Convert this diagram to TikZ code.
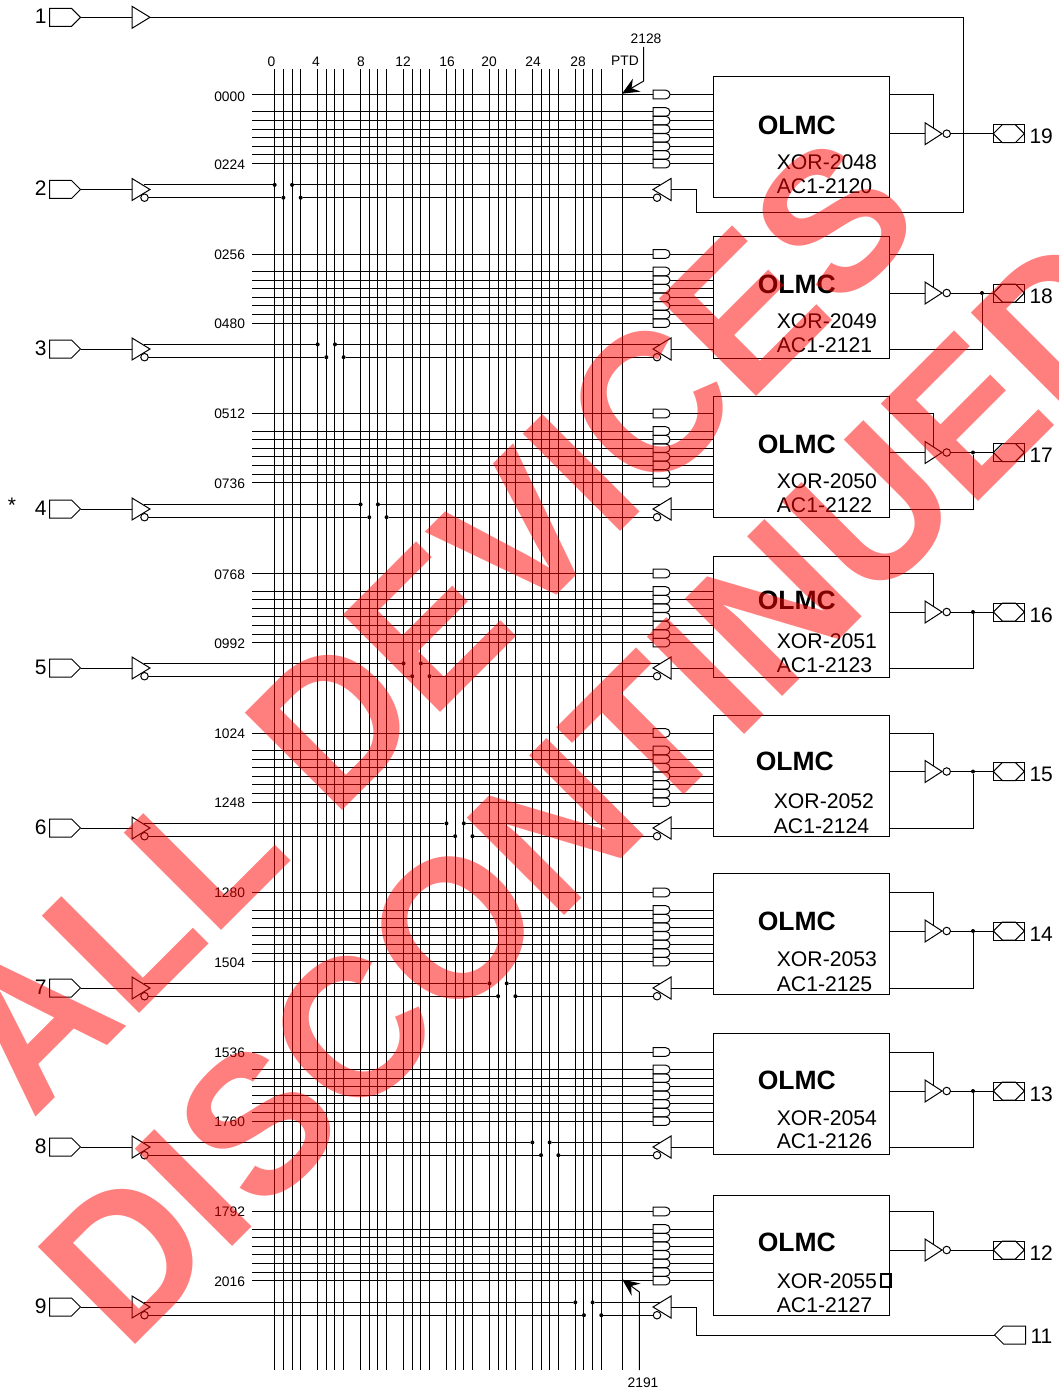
\documentclass[tikz,border=0pt]{standalone}
\usepackage{fontspec}
\setmainfont{Liberation Sans}
\usetikzlibrary{shapes.geometric,shapes.symbols,shapes.misc,arrows.meta}
\tikzset{
  small/.style={inner sep=0pt,yshift=-.8pt,font=\fontsize{13.8}{15}\selectfont},
  pinlab/.style={inner sep=0pt,font=\fontsize{21}{24}\selectfont},
  xorlab/.style={inner sep=0pt,anchor=west,font=\fontsize{21.2}{24}\selectfont},
  olmclab/.style={inner sep=0pt,anchor=west,font=\fontsize{26.5}{30}\selectfont\bfseries},
  olmc/.style={draw,anchor=north west,minimum width=176pt,inner sep=0pt,outer sep=0pt},
  andgate/.style={draw,rounded rectangle,rounded rectangle left arc=none,minimum width=17pt,minimum height=8.7pt,inner sep=0pt,outer sep=0pt},
  buffer/.style={draw,isosceles triangle,isosceles triangle stretches,minimum width=22pt,minimum height=18pt,inner sep=0pt,outer sep=0pt},
  bubble/.style={draw,circle,fill=white,minimum size=7.5pt,inner sep=0pt,outer sep=0pt},
  joint/.style={fill,circle,minimum size=4pt,inner sep=0pt,outer sep=0pt},
  inpin/.style={draw,signal,signal to=east,minimum width=31pt,minimum height=18pt,inner sep=0pt,outer sep=0pt},
  backpin/.style={draw,signal,signal to=west,minimum width=31pt,minimum height=18pt,inner sep=0pt,outer sep=0pt},
  outbox/.style={draw,rectangle,minimum width=31pt,minimum height=18pt,inner sep=0pt,outer sep=0pt},
  outhex/.style={draw,signal,signal to=east and west,minimum width=31pt,minimum height=18pt,inner sep=0pt,outer sep=0pt},
  stamp/.style={inner sep=0pt,rotate=45,text=red,text opacity=.5,font=\fontsize{200}{200}\selectfont\bfseries},
  ptdtip/.style={-{Stealth[length=17pt,width=15pt,inset=6pt]}}
}
\begin{document}
\begin{tikzpicture}[x=1pt,y=-1pt,line width=1pt]
\useasboundingbox (0,0) rectangle (1058,1388);
% fuse map columns
\foreach \g in {0,...,7} {
  \foreach \s in {0,...,3} {
    \pgfmathsetmacro\cx{274.7+\g*42.94+\s*8.67}
    \coordinate (top\g\s) at (\cx,69);
    \coordinate (bot\g\s) at (\cx,1370);
    \draw (top\g\s) -- (bot\g\s);
  }
}
\coordinate (ptdtop) at (622,69);
\coordinate (ptdbot) at (622,1370);
\draw (ptdtop) -- (ptdbot);
\foreach \lab/\x in {0/271.5,4/316,8/361,12/403,16/447,20/489,24/533,28/578} {
  \node[small] (col\lab) at (\x,61) {\lab};
}
\node[small] (ptdlab) at (625,60) {PTD};
\node[small] (upper) at (646,38) {2128};
\node[small] (lower) at (643,1382) {2191};
\node[pinlab,anchor=center] (star) at (12,505) {*};
% first input
\node[inpin,anchor=west] (pin1) at (49.5,17.3) {};
\node[pinlab,anchor=east] (lab1) at (47,16) {1};
\node[buffer,anchor=lower side] (buf1) at (132,17.3) {};
\draw (pin1.east) -- (buf1.lower side);
% one row per OLMC
\foreach \k/\pn/\po/\boxt/\boxb/\fy/\oy/\ry/\lo/\ly/\hi/\lx/\tx/\oly/\xy/\ay in {
  0/2/19/77/198/94.5/133.7/189.5/0000/96/0224/757.3/776.3/125/162/186,
  1/3/18/237/358/254/293/349/0256/253.5/0480/757.3/776.3/284/321/345,
  2/4/17/396/517/413.5/452.5/509/0512/413/0736/757.3/776.3/444/481/505,
  3/5/16/556/677/573.5/612/668/0768/573.5/0992/757.3/776.3/600/641/665,
  4/6/15/715/836/733/771.5/828/1024/733/1248/755.3/773.3/761/801/826,
  5/7/14/873/994/892.5/931/988/1280/892/1504/757.3/776.3/921/959/984,
  6/8/13/1033/1154/1052/1091/1147/1536/1052/1760/757.3/776.3/1080/1118/1141,
  7/9/12/1195/1315/1211.5/1250/1307/1792/1211/2016/757.3/776.3/1242/1281/1305} {
  \pgfmathsetmacro\boxh{\boxb-\boxt}
  \node[olmc,minimum height=\boxh pt] (box\k) at (713,\boxt) {};
  \node[olmclab] (olmc\k) at (\lx,\oly) {OLMC};
  \node[xorlab] (xor\k) at (\tx,\xy) {XOR-\the\numexpr2048+\k\relax};
  \node[xorlab] (acn\k) at (\tx,\ay) {AC1-\the\numexpr2120+\k\relax};
  % product terms
  \coordinate (row\k) at (252,\fy);
  \node[andgate] (ptd\k) at (661.5,\fy) {};
  \draw (row\k) -- (ptd\k.west);
  \draw (ptd\k.east) -- (ptd\k.east -| box\k.west);
  \foreach \i in {1,...,7} {
    \pgfmathsetmacro\gy{\fy+17.5+(\i-1)*8.6}
    \coordinate (row\k\i) at (252,\gy);
    \node[andgate] (and\k\i) at (661.5,\gy) {};
    \draw (row\k\i) -- (and\k\i.west);
    \draw (and\k\i.east) -- (and\k\i.east -| box\k.west);
  }
  \pgfmathsetmacro\hy{\fy+69}
  \node[small,anchor=east] (lo\k) at (245.5,\ly) {\lo};
  \node[small,anchor=east] (hi\k) at (245.5,\hy) {\hi};
  % input pin and its two rails
  \pgfmathsetmacro\pl{\ry-1}
  \pgfmathsetmacro\uy{\ry-4.6}
  \pgfmathsetmacro\dy{\ry+8.2}
  \pgfmathsetmacro\ga{274.7+\k*42.94}
  \pgfmathsetmacro\gb{\ga+8.67}
  \pgfmathsetmacro\gc{\ga+17.34}
  \pgfmathsetmacro\gd{\ga+26}
  \node[inpin,anchor=west] (pin\pn) at (49.5,\ry) {};
  \node[pinlab,anchor=east] (lab\pn) at (47,\pl) {\pn};
  \node[buffer,anchor=lower side] (buf\pn) at (132,\ry) {};
  \node[bubble] (bubl\pn) at (144.5,\dy) {};
  \draw (pin\pn.east) -- (buf\pn.lower side);
  \node[buffer,anchor=apex,shape border rotate=180] (fbk\k) at (653,\ry) {};
  \node[bubble] (bubr\k) at (657,\dy) {};
  \node[joint] (ja\k) at (\ga,\uy) {};
  \node[joint] (jb\k) at (\gb,\dy) {};
  \node[joint] (jc\k) at (\gc,\uy) {};
  \node[joint] (jd\k) at (\gd,\dy) {};
  \coordinate (us\k) at (143.5,\uy);
  \coordinate (ue\k) at (659.5,\uy);
  \draw (us\k) -- (ja\k);
  \draw (jc\k) -- (ue\k);
  \draw (bubl\pn.east) -- (jb\k);
  \draw (jd\k) -- (bubr\k.west);
  % output side
  \coordinate (en\k) at (933.5,\fy);
  \node[buffer,anchor=lower side,minimum height=17pt] (inv\k) at (925,\oy) {};
  \node[bubble] (invb\k) at (946.7,\oy) {};
  \draw (box\k.east |- en\k) -- (en\k) -- (inv\k.left side);
  \draw (box\k.east |- inv\k.lower side) -- (inv\k.lower side);
  \pgfmathsetmacro\ply{\oy+3}
  \node[outbox] (obox\k) at (1008.8,\oy) {};
  \node[outhex] (ohex\k) at (1008.8,\oy) {};
  \node[pinlab,anchor=west] (lab\po) at (1029,\ply) {\po};
  \draw (invb\k.east) -- (ohex\k.west);
}
% feedback from the output pins
\foreach \k/\fx in {1/982,2/973,3/973,4/973,5/973,6/973} {
  \coordinate (fbx\k) at (\fx,0);
  \node[joint] (fbj\k) at (fbx\k |- invb\k) {};
  \draw (fbj\k) |- (box\k.east |- fbk\k.lower side);
  \draw (fbk\k.lower side) -- (fbk\k.lower side -| box\k.west);
}
\coordinate (feeda) at (696,213);
\coordinate (feedb) at (963,213);
\coordinate (feedc) at (963,17.3);
\draw (fbk0.lower side) -| (feeda) -- (feedb) -- (feedc) -- (buf1.apex);
\node[backpin,anchor=east] (pin11) at (1025.5,1335) {};
\node[pinlab,anchor=west] (lab11) at (1030,1336) {11};
\coordinate (feedd) at (696,1335);
\draw (fbk7.lower side) -| (feedd) -- (pin11.west);
% the stray box after 2055
\node[draw,line width=1.3pt,minimum width=10pt,minimum height=13pt,inner sep=0pt] (stray) at (886,1280.5) {};
% PTD arrows
\coordinate (ua) at (643.7,47);
\coordinate (ub) at (643.7,81);
\coordinate (ut) at (622,93.7);
\draw[ptdtip] (ua) -- (ub) -- (ut);
\coordinate (la) at (639.3,1370);
\coordinate (lb) at (639.3,1292);
\coordinate (lt) at (622.3,1279.5);
\draw[ptdtip] (la) -- (lb) -- (lt);
% stamp over everything
\begin{scope}
\clip (0,0) rectangle (1058,1388);
\node[stamp] (stampa) at (431.5,623.5) {\scalebox{.958}[1]{ALL DEVICES}};
\node[stamp] (stampb) at (593,788.8) {\scalebox{.958}[1]{DISCONTINUED}};
\end{scope}
\end{tikzpicture}
\end{document}
